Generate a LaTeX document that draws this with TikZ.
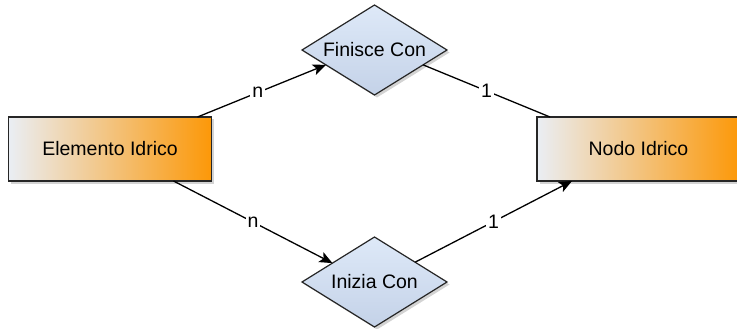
\documentclass[tikz,border=0pt]{standalone}
\usepackage{fontspec}
\setmainfont{Liberation Sans}
\usetikzlibrary{calc}
\usetikzlibrary{arrows.meta}
\usetikzlibrary{shapes.geometric}
\usetikzlibrary{shadows}
\definecolor{boxorange}{RGB}{252,152,8}
\definecolor{boxgrey}{RGB}{234,238,244}
\definecolor{relblue}{RGB}{222,233,248}
\definecolor{relbluedark}{RGB}{196,210,232}

\begin{document}
\begin{tikzpicture} [x=1pt, y=-1pt, font=\fontsize{19.5}{23}\selectfont,
  entity/.style={draw=black!85, line width=1.4pt, left color=boxgrey, right color=boxorange, minimum width=203pt, minimum height=64pt, inner sep=0pt, outer sep=0pt, drop shadow={shadow xshift=2.5pt, shadow yshift=-2.5pt, opacity=.35}},
  relation/.style={diamond, aspect=1.6, draw=black!85, line width=1.2pt, top color=relblue, bottom color=relbluedark, minimum width=145pt, minimum height=90pt, inner sep=0pt, outer sep=0pt, drop shadow={shadow xshift=2.5pt, shadow yshift=-2.5pt, opacity=.35}},
  link/.style={line width=1.3pt},
  card/.style={fill=white, inner sep=2pt}]
\useasboundingbox (0,0) rectangle (737,329);

\node[entity] (elem) at (110,149) {Elemento Idrico};
\node[entity] (nodo) at (638.5,149) {Nodo Idrico};
\node[relation] (fin) at (374.5,50) {Finisce Con};
\node[relation] (ini) at (374.5,282) {Inizia Con};

\draw[link, -{Stealth[length=13pt, width=11pt, inset=3pt]}] ([xshift=-14pt]elem.north east) -- ($(fin.west)!0.33!(fin.south)$) node[card, pos=.47] {n};
\draw[link] ($(fin.east)!0.33!(fin.south)$) -- ([xshift=13pt]nodo.north west) node[card, midway] {1};
\draw[link, -{Stealth[length=13pt, width=11pt, inset=3pt]}] ([xshift=-38pt]elem.south east) -- ($(ini.west)!0.42!(ini.north)$) node[card, midway] {n};
\draw[link, -{Stealth[length=13pt, width=11pt, inset=3pt]}] ($(ini.north)!0.56!(ini.east)$) -- ([xshift=35pt]nodo.south west) node[card, midway] {1};

\end{tikzpicture}
\end{document}
